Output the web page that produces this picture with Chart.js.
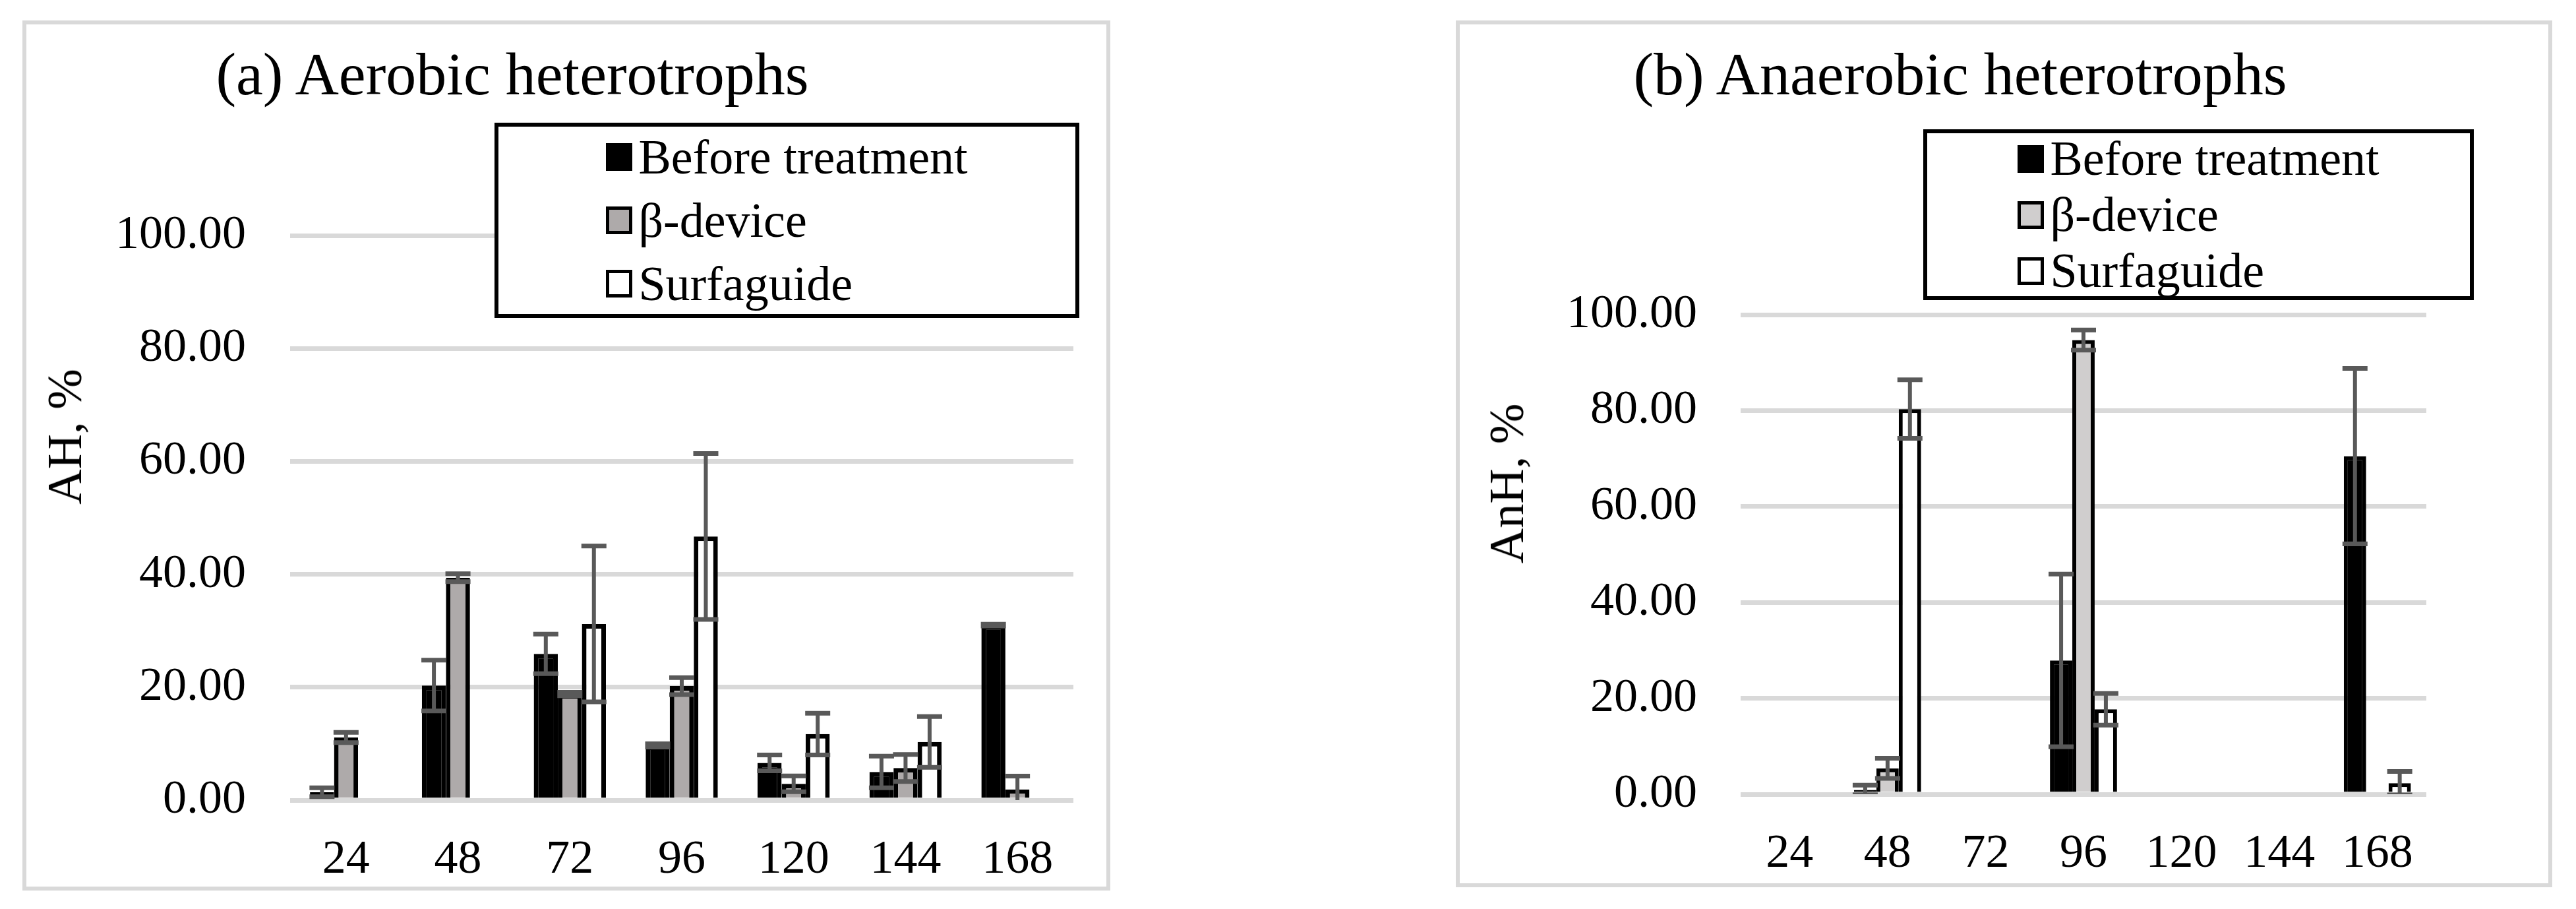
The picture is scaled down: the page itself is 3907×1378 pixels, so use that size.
<!DOCTYPE html>
<html>
<head>
<meta charset="utf-8">
<script src="https://cdn.jsdelivr.net/npm/chart.js@4.4.1/dist/chart.umd.min.js"></script>
<style>
    body { margin: 0; width: 3907px; height: 1378px; background: #fff; position: relative; overflow: hidden; font-family: 'Liberation Serif', serif; color: #000; }
    .panel { position: absolute; box-sizing: border-box; border: 6px solid #d9d9d9; background: #fff; }
    .panel canvas { position: absolute; left: 0; top: 0; }
    .title { position: absolute; font-size: 92px; line-height: 1; white-space: nowrap; transform: translateX(-50%); }
    .axis-title { position: absolute; font-size: 74px; line-height: 1; white-space: nowrap; transform: translate(-50%, -50%) rotate(-90deg); }
    .legend { position: absolute; box-sizing: border-box; border: 6px solid #000; background: #fff; display: flex; justify-content: center; align-items: center; }
    .legend .row { display: flex; align-items: center; font-size: 74px; white-space: nowrap; }
    .legend .mark { width: 40px; height: 42px; box-sizing: border-box; margin-right: 9px; }
</style>
</head>
<body>

<div class="panel" style="left: 34px; top: 31px; width: 1650px; height: 1319px;">
    <canvas id="chartA" width="1638" height="1307"></canvas>
    <div class="title" style="left: 737px; top: 29px;">(a) Aerobic heterotrophs</div>
    <div class="axis-title" style="left: 58px; top: 625px;">AH, %</div>
    <div class="legend" id="legendA" style="left: 710px; top: 149px; width: 887px; height: 296px; line-height: 96px;"></div>
</div>

<div class="panel" style="left: 2208px; top: 31px; width: 1663px; height: 1314px;">
    <canvas id="chartB" width="1651" height="1302"></canvas>
    <div class="title" style="left: 759px; top: 29px;">(b) Anaerobic heterotrophs</div>
    <div class="axis-title" style="left: 71px; top: 696px;">AnH, %</div>
    <div class="legend" id="legendB" style="left: 703px; top: 159px; width: 835px; height: 259px; line-height: 85px;"></div>
</div>

<script>
const hours = ['24', '48', '72', '96', '120', '144', '168'];
const seriesNames = ['Before treatment', 'β-device', 'Surfaguide'];
const yTicks = [0, 20, 40, 60, 80, 100];

// (a) Aerobic heterotrophs, AH %
const ahBefore = [1.4, 20.3, 25.9, 9.7, 6.6, 5.0, 31.0];
const ahBeforeErr = [0.8, 4.5, 3.5, 0.3, 1.4, 2.8, 0.15];
const ahDevice = [11.1, 39.4, 18.8, 20.2, 2.9, 5.7, 1.9];
const ahDeviceErr = [0.9, 0.7, 0.3, 1.5, 1.4, 2.4, 2.35];
const ahSurfaguide = [null, null, 31.2, 46.7, 11.7, 10.3, null];
const ahSurfaguideErr = [null, null, 13.8, 14.7, 3.7, 4.5, null];

// (b) Anaerobic heterotrophs, AnH %
const anhBefore = [null, 0.9, null, 27.9, null, null, 70.5];
const anhBeforeErr = [null, 1.0, null, 18.0, null, null, 18.3];
const anhDevice = [null, 5.4, null, 94.7, null, null, null];
const anhDeviceErr = [null, 2.1, null, 2.1, null, null, null];
const anhSurfaguide = [null, 80.3, null, 17.7, null, null, 2.3];
const anhSurfaguideErr = [null, 6.1, null, 3.3, null, null, 2.45];

const CAP_WIDTH = 38;

Chart.defaults.font.family = "'Liberation Serif', serif";
Chart.defaults.color = '#000';

// Chart.js has no error bars, so they are drawn after the bars
const errorBarsPlugin = {
    id: 'errorBars',
    afterDatasetsDraw(chart) {
        const { ctx, chartArea, scales } = chart;
        ctx.save();
        ctx.beginPath();
        ctx.rect(chartArea.left, chartArea.top - 10, chartArea.right - chartArea.left, chartArea.bottom - chartArea.top + 10);
        ctx.clip();
        ctx.strokeStyle = '#595959';
        chart.data.datasets.forEach((dataset, i) => {
            chart.getDatasetMeta(i).data.forEach((bar, j) => {
                const value = dataset.data[j];
                const err = dataset.errors[j];
                if (value == null || err == null) return;
                const yTop = scales.y.getPixelForValue(value + err);
                const yBottom = scales.y.getPixelForValue(value - err);
                const half = CAP_WIDTH / 2;
                ctx.lineWidth = 6;
                ctx.beginPath();
                ctx.moveTo(bar.x, yTop);
                ctx.lineTo(bar.x, yBottom);
                ctx.stroke();
                ctx.lineWidth = 7;
                ctx.beginPath();
                ctx.moveTo(bar.x - half, yTop);
                ctx.lineTo(bar.x + half, yTop);
                ctx.moveTo(bar.x - half, yBottom);
                ctx.lineTo(bar.x + half, yBottom);
                ctx.stroke();
            });
        });
        ctx.restore();
    }
};

function buildDatasets(values, errors, fills, borderWidth) {
    return values.map((data, i) => ({
        label: seriesNames[i],
        data: data,
        errors: errors[i],
        backgroundColor: fills[i],
        borderColor: '#000',
        borderWidth: borderWidth
    }));
}

function createChart(canvasId, datasets, layout) {
    const ctx = document.getElementById(canvasId).getContext('2d');
    return new Chart(ctx, {
        type: 'bar',
        data: { labels: hours, datasets: datasets },
        plugins: [errorBarsPlugin],
        options: {
            responsive: false,
            animation: false,
            devicePixelRatio: 1,
            layout: { padding: { top: layout.padTop, right: layout.padRight, left: 0, bottom: 0 } },
            datasets: { bar: { categoryPercentage: layout.groupWidth, barPercentage: 1 } },
            plugins: {
                legend: { display: false },
                tooltip: { enabled: false },
                title: { display: false }
            },
            scales: {
                x: {
                    grid: { display: false },
                    border: { display: false },
                    ticks: { font: { size: 72 }, padding: 40 },
                    afterFit: (scale) => { scale.height = layout.axisHeight; }
                },
                y: {
                    min: yTicks[0],
                    max: yTicks[yTicks.length - 1],
                    grid: { color: '#d9d9d9', lineWidth: 7, drawTicks: false },
                    border: { display: false },
                    ticks: {
                        stepSize: yTicks[1] - yTicks[0],
                        font: { size: 72 },
                        padding: layout.tickPad,
                        callback: (v) => v.toFixed(2)
                    },
                    afterFit: (scale) => { scale.width = layout.axisWidth; }
                }
            }
        }
    });
}

function buildLegend(legendId, fills) {
    const legend = document.getElementById(legendId);
    const list = document.createElement('div');
    seriesNames.forEach((name, i) => {
        const row = document.createElement('div');
        row.className = 'row';
        const mark = document.createElement('span');
        mark.className = 'mark';
        mark.style.background = fills[i];
        if (i > 0) mark.style.border = '5px solid #000';
        row.appendChild(mark);
        row.appendChild(document.createTextNode(name));
        list.appendChild(row);
    });
    legend.appendChild(list);
}

const fillsA = ['#000000', '#aeaaaa', '#ffffff'];
const fillsB = ['#000000', '#d0cece', '#ffffff'];

createChart('chartA',
    buildDatasets([ahBefore, ahDevice, ahSurfaguide], [ahBeforeErr, ahDeviceErr, ahSurfaguideErr], fillsA, 7),
    { padTop: 320, padRight: 50, axisWidth: 400, axisHeight: 131, tickPad: 67, groupWidth: 0.645 });

createChart('chartB',
    buildDatasets([anhBefore, anhDevice, anhSurfaguide], [anhBeforeErr, anhDeviceErr, anhSurfaguideErr], fillsB, 6),
    { padTop: 440, padRight: 185, axisWidth: 426, axisHeight: 135, tickPad: 66, groupWidth: 0.685 });

buildLegend('legendA', fillsA);
buildLegend('legendB', fillsB);
</script>
</body>
</html>
